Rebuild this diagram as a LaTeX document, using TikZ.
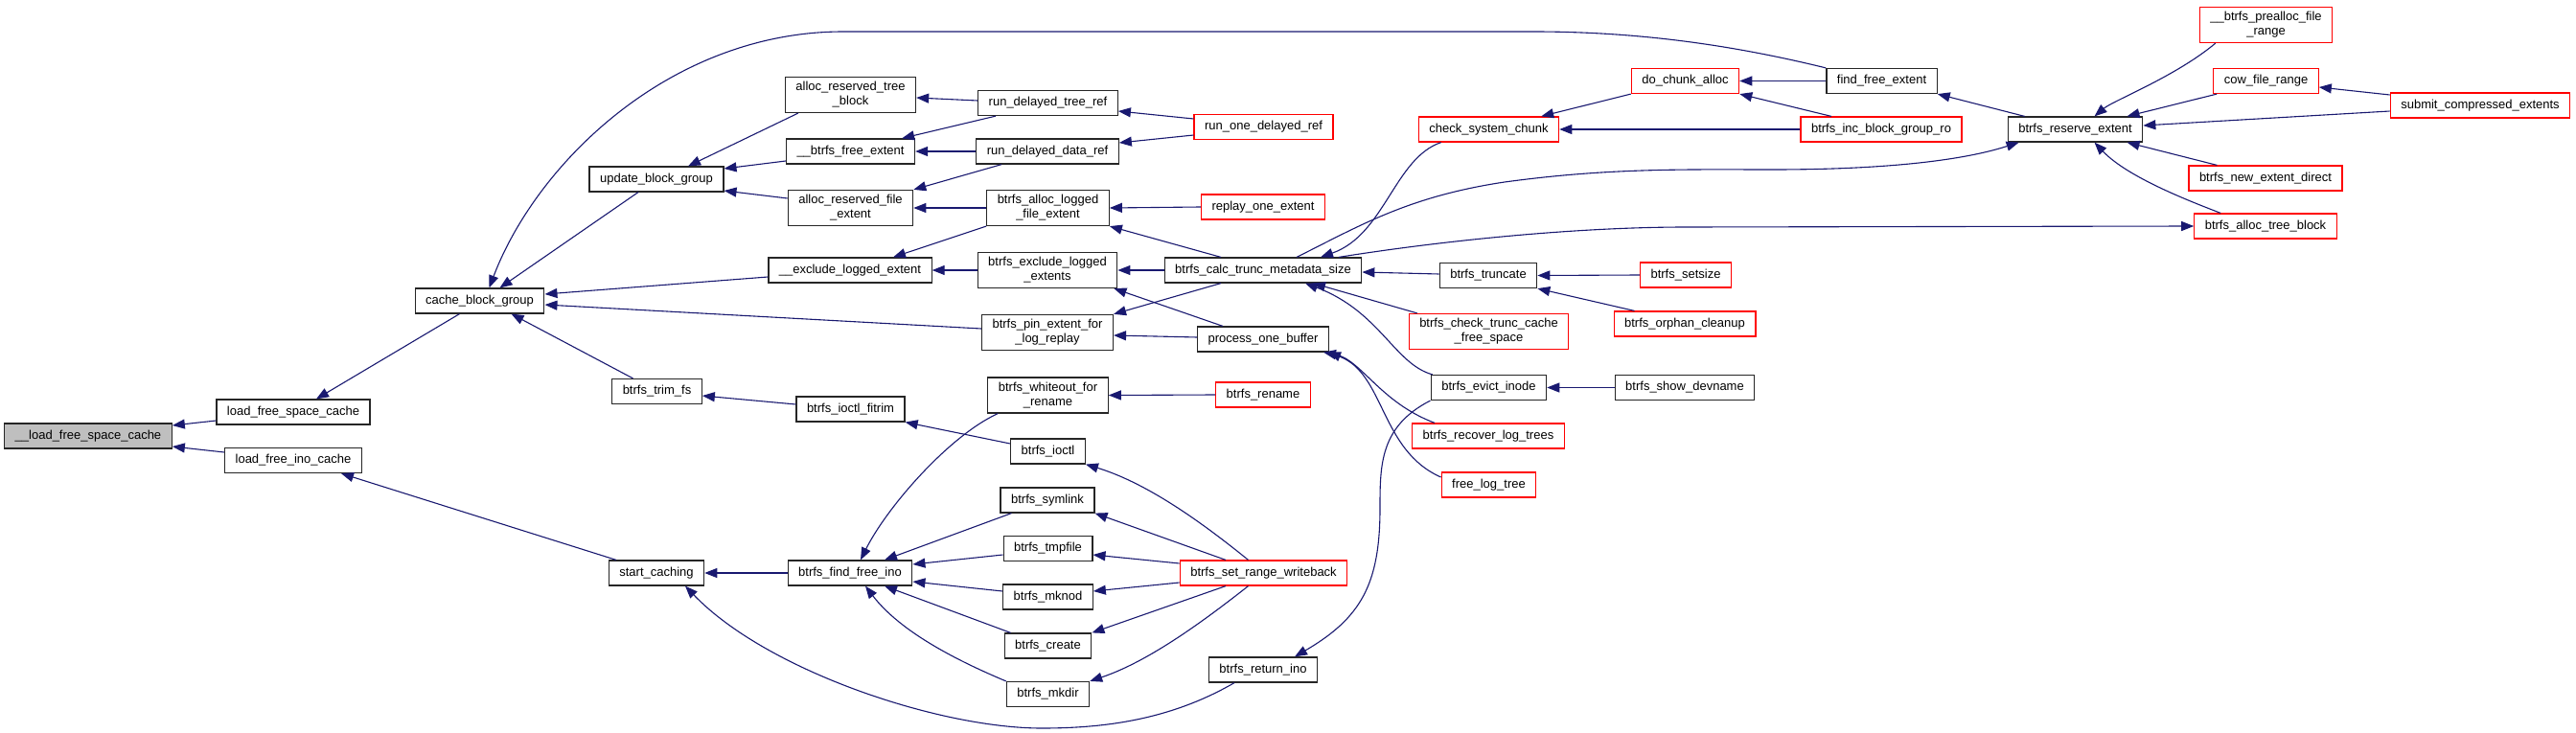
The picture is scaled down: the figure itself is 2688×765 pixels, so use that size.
\documentclass[tikz,border=0pt]{standalone}
\usepackage{fontspec}
\usepackage{xcolor}
\usepackage{tikz}
\usetikzlibrary{positioning,arrows.meta}
\newfontfamily\dxfont{Liberation Sans}
\definecolor{edgeblue}{HTML}{191970}
\definecolor{boxred}{HTML}{FF0000}
\definecolor{rootgray}{HTML}{BFBFBF}

\begin{document}
\begin{tikzpicture}[
    x=1pt, y=-1pt,
    font=\dxfont\fontsize{13}{15}\selectfont,
    fn_box/.style={draw=black!85, line width=1.2pt, fill=white, align=center, inner xsep=11pt, inner ysep=5pt, minimum height=26pt},
    red_box/.style={fn_box, draw=boxred},
    root_box/.style={fn_box, fill=rootgray},
    call_arrow/.style={-{Triangle[length=13pt,width=10pt]}, draw=edgeblue, line width=1.1pt}
]
\useasboundingbox (0,0) rectangle (2688,765);

\node (root)     [root_box] at (92,455)     {\_\_load\_free\_space\_cache};
\node (lfsc)     [fn_box]   at (306,430)    {load\_free\_space\_cache};
\node (lfic)     [fn_box]   at (306,480.5)  {load\_free\_ino\_cache};
\node (cbg)      [fn_box]   at (500.5,314)  {cache\_block\_group};
\node (ubg)      [fn_box]   at (685,187)    {update\_block\_group};
\node (trim)     [fn_box]   at (685.5,408.5){btrfs\_trim\_fs};
\node (startc)   [fn_box]   at (685,598)    {start\_caching};
\node (artb)     [fn_box]   at (887.5,99)   {alloc\_reserved\_tree\\\_block};
\node (bfe)      [fn_box]   at (887.5,158)  {\_\_btrfs\_free\_extent};
\node (arfe)     [fn_box]   at (887.5,217)  {alloc\_reserved\_file\\\_extent};
\node (ele)      [fn_box]   at (887,282)    {\_\_exclude\_logged\_extent};
\node (fitrim)   [fn_box]   at (887.5,427)  {btrfs\_ioctl\_fitrim};
\node (ffi)      [fn_box]   at (887,598)    {btrfs\_find\_free\_ino};
\node (rdtr)     [fn_box]   at (1093.5,107.5){run\_delayed\_tree\_ref};
\node (rddr)     [fn_box]   at (1093,158)   {run\_delayed\_data\_ref};
\node (alfe)     [fn_box]   at (1093.5,217) {btrfs\_alloc\_logged\\\_file\_extent};
\node (bele)     [fn_box]   at (1093,282)   {btrfs\_exclude\_logged\\\_extents};
\node (pin)      [fn_box]   at (1093,347)   {btrfs\_pin\_extent\_for\\\_log\_replay};
\node (wfr)      [fn_box]   at (1093.5,412.5){btrfs\_whiteout\_for\\\_rename};
\node (ioctl)    [fn_box]   at (1093.5,471) {btrfs\_ioctl};
\node (symlink)  [fn_box]   at (1093,522)   {btrfs\_symlink};
\node (tmpfile)  [fn_box]   at (1093.5,572.5){btrfs\_tmpfile};
\node (mknod)    [fn_box]   at (1093.5,623) {btrfs\_mknod};
\node (create)   [fn_box]   at (1093.5,674) {btrfs\_create};
\node (mkdir)    [fn_box]   at (1093.5,724.5){btrfs\_mkdir};
\node (rodr)     [red_box]  at (1318.5,132.5){run\_one\_delayed\_ref};
\node (roe)      [red_box]  at (1318,216)   {replay\_one\_extent};
\node (calc)     [fn_box]   at (1318,282)   {btrfs\_calc\_trunc\_metadata\_size};
\node (pob)      [fn_box]   at (1318,354)   {process\_one\_buffer};
\node (rename)   [red_box]  at (1318,412)   {btrfs\_rename};
\node (srw)      [red_box]  at (1318.5,598) {btrfs\_set\_range\_writeback};
\node (retino)   [fn_box]   at (1318,699)   {btrfs\_return\_ino};
\node (csc)      [red_box]  at (1553.5,135) {check\_system\_chunk};
\node (trunc)    [fn_box]   at (1553,287.5) {btrfs\_truncate};
\node (ctcfs)    [red_box]  at (1553.5,346) {btrfs\_check\_trunc\_cache\\\_free\_space};
\node (evict)    [fn_box]   at (1553.5,404.5){btrfs\_evict\_inode};
\node (rlt)      [red_box]  at (1553,455)   {btrfs\_recover\_log\_trees};
\node (flt)      [red_box]  at (1553.5,506) {free\_log\_tree};
\node (dca)      [red_box]  at (1758.5,84.5){do\_chunk\_alloc};
\node (setsize)  [red_box]  at (1759,287)   {btrfs\_setsize};
\node (orphan)   [red_box]  at (1758,338)   {btrfs\_orphan\_cleanup};
\node (showdev)  [fn_box]   at (1758,404.5) {btrfs\_show\_devname};
\node (ffe)      [fn_box]   at (1963.5,84.5){find\_free\_extent};
\node (ibgro)    [red_box]  at (1963,135)   {btrfs\_inc\_block\_group\_ro};
\node (rese)     [fn_box]   at (2165.5,135) {btrfs\_reserve\_extent};
\node (prealloc) [red_box]  at (2364.5,26)  {\_\_btrfs\_prealloc\_file\\\_range};
\node (cfr)      [red_box]  at (2364.5,84.5){cow\_file\_range};
\node (nedir)    [red_box]  at (2364,186)   {btrfs\_new\_extent\_direct};
\node (atb)      [red_box]  at (2364,236)   {btrfs\_alloc\_tree\_block};
\node (sce)      [red_box]  at (2588,110)   {submit\_compressed\_extents};

\draw [call_arrow] ([yshift=-9pt]lfsc.west) -- ([yshift=11pt]root.east);
\draw [call_arrow] ([yshift=8.5pt]lfic.west) -- ([yshift=-11pt]root.east);
\draw [call_arrow] ([xshift=-21pt]cbg.south) -- ([xshift=24pt]lfsc.north);
\draw [call_arrow] ([xshift=-42pt]startc.north) -- ([xshift=50pt]lfic.south);
\draw [call_arrow] (ffe.north west) .. controls (1820,50) and (1720,33) .. (1600,33) -- (880,33) .. controls (700,33) and (560,170) .. ([xshift=10pt]cbg.north);
\draw [call_arrow] ([xshift=-19pt]ubg.south) -- ([xshift=21pt]cbg.north);
\draw [call_arrow] ([yshift=-7pt]ele.west) -- ([yshift=7pt]cbg.east);
\draw [call_arrow] ([yshift=4pt]pin.west) -- ([yshift=-4pt]cbg.east);
\draw [call_arrow] ([xshift=-25pt]trim.north) -- ([xshift=33pt]cbg.south);
\draw [call_arrow] ([xshift=14pt]artb.south west) -- ([xshift=33pt]ubg.north);
\draw [call_arrow] ([yshift=-10pt]bfe.west) -- ([yshift=11pt]ubg.east);
\draw [call_arrow] ([yshift=10pt]arfe.west) -- ([yshift=-12pt]ubg.east);
\draw [call_arrow] ([yshift=2.5pt]rdtr.west) -- ([yshift=-3pt]artb.east);
\draw [call_arrow] ([xshift=19pt]rdtr.south west) -- ([xshift=-14pt]bfe.north east);
\draw [call_arrow] (rddr.west) -- (bfe.east);
\draw [call_arrow] ([xshift=27pt]rddr.south west) -- (arfe.north east);
\draw [call_arrow] ([yshift=8.5pt]rodr.west) -- ([yshift=-8.5pt]rdtr.east);
\draw [call_arrow] ([yshift=-8.5pt]rodr.west) -- ([yshift=9pt]rddr.east);
\draw [call_arrow] (alfe.west) -- (arfe.east);
\draw [call_arrow] (alfe.south west) -- ([xshift=45pt]ele.north);
\draw [call_arrow] (roe.west) -- (alfe.east);
\draw [call_arrow] ([xshift=-44pt]calc.north) -- (alfe.south east);
\draw [call_arrow] (bele.west) -- (ele.east);
\draw [call_arrow] (calc.west) -- (bele.east);
\draw [call_arrow] ([xshift=-44pt]calc.south) -- (pin.north east);
\draw [call_arrow] ([xshift=-42pt]pob.north) -- ([xshift=-4pt]bele.south east);
\draw [call_arrow] ([yshift=2pt]pob.west) -- ([yshift=-3pt]pin.east);
\draw [call_arrow] ([xshift=24pt]csc.south west) .. controls (1455,165) and (1445,245) .. ([xshift=60pt]calc.north);
\draw [call_arrow] ([xshift=35pt]calc.north) .. controls (1420,235) and (1470,205) .. (1570,190) .. controls (1680,175) and (1760,177) .. (1850,177) .. controls (1950,177) and (2040,170) .. ([xshift=12pt]rese.south west);
\draw [call_arrow] ([xshift=79pt]calc.north) .. controls (1500,252) and (1640,237) .. (1760,237) -- (atb.west);
\draw [call_arrow] (dca.south west) -- ([xshift=-19pt]csc.north east);
\draw [call_arrow] (ibgro.west) -- (csc.east);
\draw [call_arrow] (ffe.west) -- (dca.east);
\draw [call_arrow] ([xshift=-52pt]ibgro.north) -- (dca.south east);
\draw [call_arrow] ([xshift=18pt]rese.north west) -- (ffe.south east);
\draw [call_arrow] ([xshift=17pt]prealloc.south west) .. controls (2270,80) and (2205,105) .. ([xshift=20pt]rese.north);
\draw [call_arrow] ([xshift=4pt]cfr.south west) -- ([xshift=54pt]rese.north);
\draw [call_arrow] ([yshift=11pt]sce.west) -- ([yshift=-6.5pt]cfr.east);
\draw [call_arrow] ([yshift=-6pt]sce.west) -- ([yshift=4pt]rese.east);
\draw [call_arrow] ([xshift=30pt]nedir.north west) -- ([xshift=54pt]rese.south);
\draw [call_arrow] ([xshift=28pt]atb.north west) .. controls (2285,210) and (2220,185) .. ([xshift=20pt]rese.south);
\draw [call_arrow] ([yshift=1.5pt]trunc.west) -- ([yshift=-2pt]calc.east);
\draw [call_arrow] ([xshift=9pt]ctcfs.north west) -- ([xshift=52pt]calc.south);
\draw [call_arrow] ([xshift=2pt]evict.north west) .. controls (1455,380) and (1440,325) .. ([xshift=44pt]calc.south);
\draw [call_arrow] (setsize.west) -- (trunc.east);
\draw [call_arrow] ([xshift=22pt]orphan.north west) -- (trunc.south east);
\draw [call_arrow] (showdev.west) -- (evict.east);
\draw [call_arrow] ([xshift=24pt]rlt.north west) .. controls (1440,420) and (1420,375) .. ([xshift=-6pt]pob.south east);
\draw [call_arrow] ([yshift=8pt]flt.west) .. controls (1440,470) and (1445,390) .. ([xshift=-1pt]pob.south east);
\draw [call_arrow] ([yshift=5pt]fitrim.west) -- ([yshift=-4.5pt]trim.east);
\draw [call_arrow] ([yshift=8pt]ioctl.west) -- (fitrim.south east);
\draw [call_arrow] ([xshift=-16pt]srw.north) .. controls (1260,550) and (1200,505) .. (ioctl.south east);
\draw [call_arrow] ([xshift=11pt]wfr.south west) .. controls (990,455) and (925,530) .. ([xshift=11pt]ffi.north);
\draw [call_arrow] (rename.west) -- (wfr.east);
\draw [call_arrow] ([xshift=12pt]symlink.south west) -- ([xshift=36pt]ffi.north);
\draw [call_arrow] ([yshift=-6.5pt]tmpfile.west) -- ([yshift=9pt]ffi.east);
\draw [call_arrow] ([yshift=6pt]mknod.west) -- ([yshift=-9pt]ffi.east);
\draw [call_arrow] ([xshift=7pt]create.north west) -- ([xshift=36pt]ffi.south);
\draw [call_arrow] (mkdir.north west) .. controls (1000,690) and (940,660) .. ([xshift=16pt]ffi.south);
\draw [call_arrow] ([xshift=-39.5pt]srw.north) -- (symlink.south east);
\draw [call_arrow] ([yshift=10pt]srw.west) -- ([yshift=-6.5pt]tmpfile.east);
\draw [call_arrow] ([yshift=-10pt]srw.west) -- ([yshift=6pt]mknod.east);
\draw [call_arrow] ([xshift=-39.5pt]srw.south) -- (create.north east);
\draw [call_arrow] ([xshift=-16pt]srw.south) .. controls (1260,645) and (1200,690) .. (mkdir.north east);
\draw [call_arrow] (ffi.west) -- (startc.east);
\draw [call_arrow] ([xshift=-30pt]retino.south) .. controls (1220,752) and (1150,760) .. (1087,760) .. controls (980,760) and (800,700) .. ([xshift=30pt]startc.south);
\draw [call_arrow] ([xshift=-61pt]evict.south) .. controls (1440,445) and (1440,485) .. (1440,530) .. controls (1440,610) and (1420,645) .. ([xshift=33pt]retino.north);

\end{tikzpicture}
\end{document}
